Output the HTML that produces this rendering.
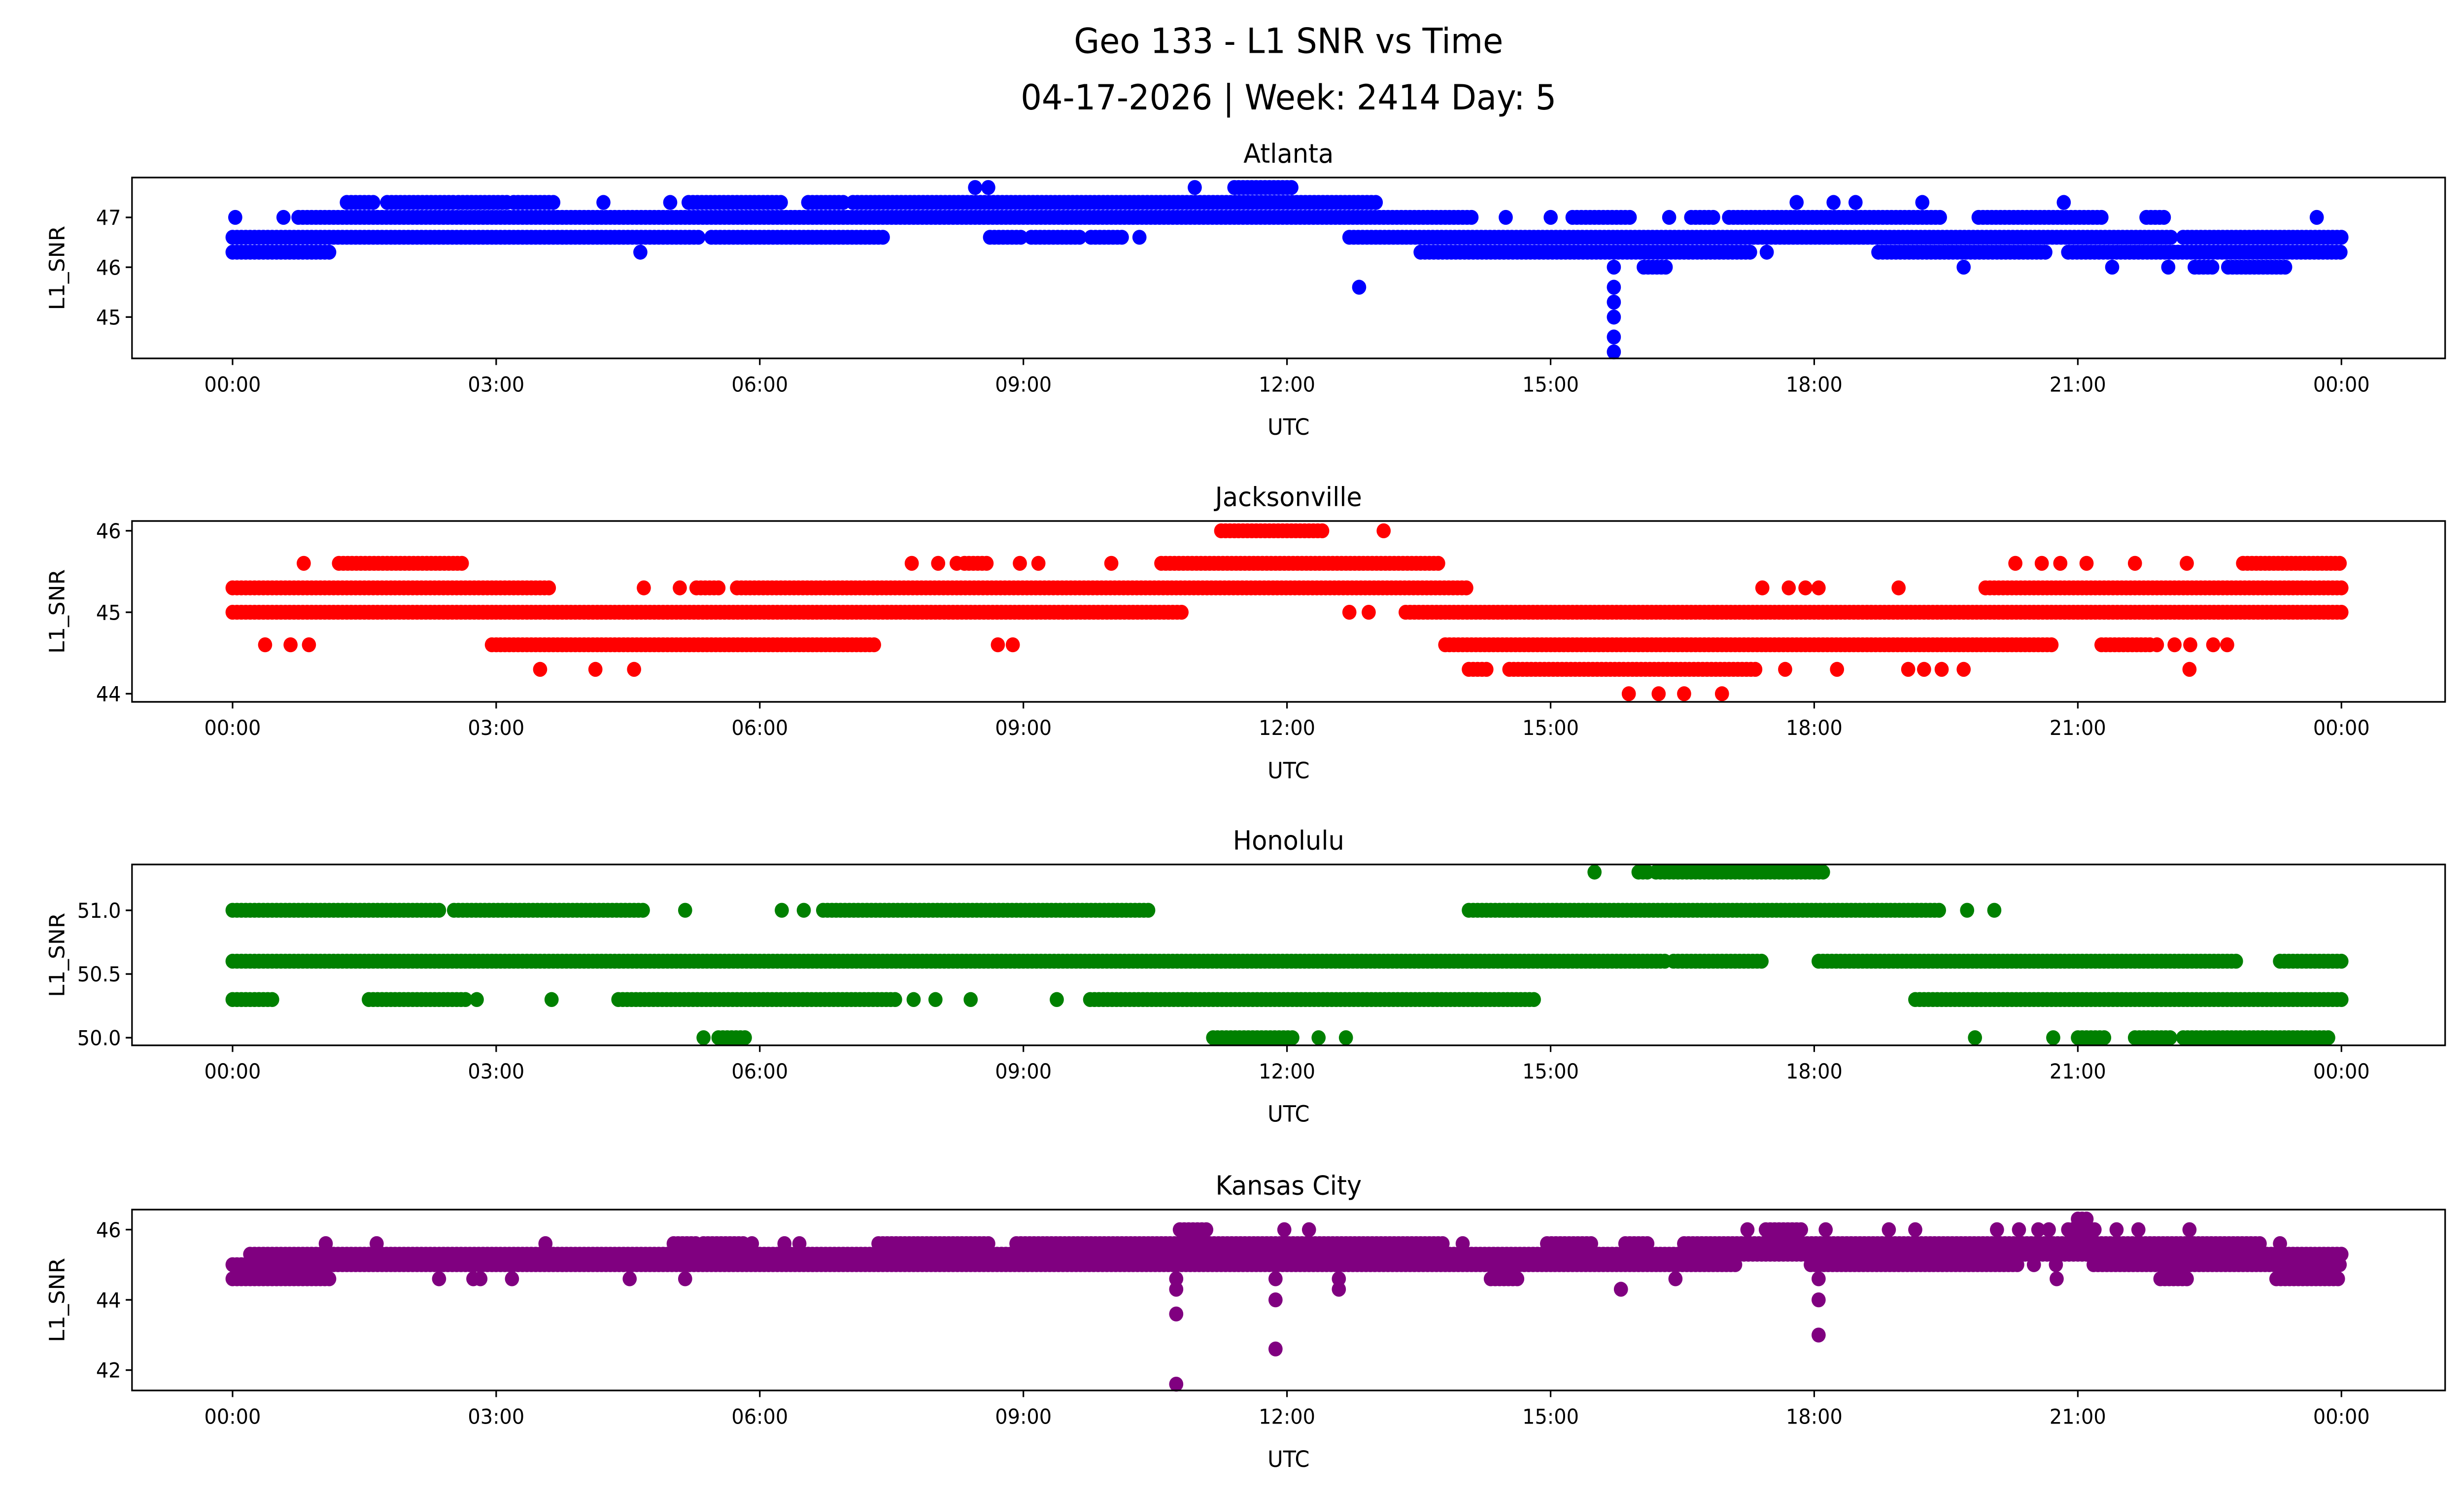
<!DOCTYPE html>
<html><head><meta charset="utf-8"><style>
html,body{margin:0;padding:0;background:#fff;overflow:hidden;width:100%;height:100%;}
svg{display:block;position:fixed;left:0;top:0;width:100vw;height:100vh;}
text{font-family:"DejaVu Sans","Liberation Sans",sans-serif;fill:#000;}
</style></head><body>
<svg id="chart" viewBox="0 0 1568 901" preserveAspectRatio="none" xmlns="http://www.w3.org/2000/svg">
<rect width="1568" height="901" fill="#fff"/>
<text x="820" y="32" font-size="21" text-anchor="middle">Geo 133 - L1 SNR vs Time</text>
<text x="820" y="66" font-size="21" text-anchor="middle">04-17-2026 | Week: 2414 Day: 5</text>
</svg>
<script>
// x-axis ticks (hours)
const xTickHours = [0,3,6,9,12,15,18,21,24];
const xTickLabels = ["00:00","03:00","06:00","09:00","12:00","15:00","18:00","21:00","00:00"];

// Atlanta runs: [value, startHour, endHour]
const atlRuns = [
 [47.6,11.4,12.08],
 [47.3,1.30,1.64],[47.3,1.76,2.52],[47.3,2.57,3.12],[47.3,3.2,3.67],[47.3,5.19,6.25],[47.3,6.55,6.97],[47.3,7.06,13.05],
 [47.0,0.75,14.11],[47.0,15.25,15.93],[47.0,16.6,16.86],[47.0,17.03,19.45],[47.0,19.87,21.31],[47.0,21.78,21.99],
 [46.6,0,5.32],[46.6,5.45,7.4],[46.6,8.62,9.0],[46.6,9.09,9.64],[46.6,9.77,10.15],[46.6,12.71,22.07],[46.6,22.2,24],
 [46.3,0,1.13],[46.3,13.52,17.29],[46.3,18.73,20.67],[46.3,20.89,24],
 [46.0,16.06,16.31],[46.0,22.33,22.54],[46.0,22.71,23.38]
];
const atlPts = [[47.6,8.45],[47.6,8.6],[47.6,10.95],[47.3,4.22],[47.3,4.98],[47.3,17.8],[47.3,18.22],[47.3,18.47],[47.3,19.23],[47.3,20.84],
 [47.0,0.03],[47.0,0.58],[47.0,14.49],[47.0,15.0],[47.0,16.35],[47.0,23.72],[46.6,10.32],[46.3,4.64],[46.3,17.46],
 [46.0,15.72],[46.0,19.7],[46.0,21.39],[46.0,22.03],[45.6,12.82],[45.6,15.72],[45.3,15.72],[45.0,15.72],[44.6,15.72],[44.3,15.72]];
const atlTicks = [45,46,47];

// Jacksonville
const jaxRuns = [
 [46.0,11.25,12.4],
 [45.6,1.21,2.61],[45.6,8.33,8.62],[45.6,10.57,13.73],[45.6,22.88,24],
 [45.3,0,3.63],[45.3,5.28,5.57],[45.3,5.74,14.07],[45.3,19.95,24],
 [45.0,0,10.82],[45.0,13.35,24],
 [44.6,2.95,7.31],[44.6,13.8,20.72],[44.6,21.27,21.86],
 [44.3,14.07,14.28],[44.3,14.53,17.33]
];
const jaxPts = [[46.0,13.1],[45.6,0.81],[45.6,7.73],[45.6,8.03],[45.6,8.24],[45.6,8.96],[45.6,9.17],[45.6,10.0],[45.6,20.29],[45.6,20.59],[45.6,20.8],[45.6,21.1],[45.6,21.65],[45.6,22.24],
 [45.3,4.68],[45.3,5.09],[45.3,17.41],[45.3,17.71],[45.3,17.9],[45.3,18.05],[45.3,18.96],[45.0,12.71],[45.0,12.93],
 [44.6,0.37],[44.6,0.66],[44.6,0.87],[44.6,8.71],[44.6,8.88],[44.6,21.9],[44.6,22.1],[44.6,22.28],[44.6,22.54],[44.6,22.7],
 [44.3,3.5],[44.3,4.13],[44.3,4.57],[44.3,17.67],[44.3,18.26],[44.3,19.07],[44.3,19.25],[44.3,19.45],[44.3,19.7],[44.3,22.27],
 [44.0,15.89],[44.0,16.23],[44.0,16.52],[44.0,16.95]];
const jaxTicks = [44,45,46];

// Honolulu
const honRuns = [
 [51.3,16.0,16.1],[51.3,16.2,18.1],
 [51.0,0,2.36],[51.0,2.52,4.68],[51.0,6.72,10.44],[51.0,14.07,19.42],
 [50.6,0,16.3],[50.6,16.4,17.4],[50.6,18.05,22.8],[50.6,23.3,24],
 [50.3,0,0.49],[50.3,1.55,2.65],[50.3,4.39,7.56],[50.3,9.76,14.83],[50.3,19.15,24],
 [50.0,5.53,5.87],[50.0,11.16,12.1],[50.0,21.0,21.3],[50.0,21.65,22.07],[50.0,22.2,23.85]
];
const honPts = [[51.3,15.5],[51.0,5.15],[51.0,6.25],[51.0,6.5],[51.0,19.74],[51.0,20.05],
 [50.3,2.78],[50.3,3.63],[50.3,7.75],[50.3,8.0],[50.3,8.4],[50.3,9.38],
 [50.0,5.36],[50.0,12.36],[50.0,12.67],[50.0,19.83],[50.0,20.72]];
const honTicks = [50.0,50.5,51.0];

// Kansas City
const kcRuns = [
 [46.3,21.0,21.14],
 [46.0,10.78,11.12],[46.0,17.45,17.88],[46.0,20.89,21.22],
 [45.6,5.02,5.28],[45.6,5.36,5.83],[45.6,7.35,8.62],[45.6,8.92,13.77],[45.6,14.96,15.5],[45.6,15.85,16.14],[45.6,16.52,23.1],
 [45.3,0.2,24],
 [45.0,0,17.1],[45.0,17.96,20.35],[45.0,21.18,24],
 [44.6,0,1.13],[44.6,14.32,14.66],[44.6,21.94,22.24],[44.6,23.26,24]
];
const kcPts = [[46.0,11.97],[46.0,12.25],[46.0,17.24],[46.0,18.13],[46.0,18.85],[46.0,19.15],[46.0,20.08],[46.0,20.33],[46.0,20.55],[46.0,20.67],[46.0,21.44],[46.0,21.69],[46.0,22.27],
 [45.6,1.06],[45.6,1.64],[45.6,3.56],[45.6,5.91],[45.6,6.28],[45.6,6.45],[45.6,14.0],[45.6,23.3],
 [45.0,20.5],[45.0,20.75],
 [44.6,2.35],[44.6,2.74],[44.6,2.82],[44.6,3.18],[44.6,4.52],[44.6,5.15],[44.6,10.74],[44.6,11.87],[44.6,12.59],[44.6,16.42],[44.6,18.05],[44.6,20.76],
 [44.3,10.74],[44.3,12.59],[44.3,15.8],[44.0,11.87],[44.0,18.05],[43.6,10.74],[43.0,18.05],[42.6,11.87],[41.6,10.74]];
const kcTicks = [42,44,46];

const panels = [
 {name:"atlanta",title:"Atlanta",color:"#0000ff",runs:atlRuns,pts:atlPts,ticks:atlTicks,dec:0,top:107,ymin:44.17,ymax:47.8},
 {name:"jacksonville",title:"Jacksonville",color:"#ff0000",runs:jaxRuns,pts:jaxPts,ticks:jaxTicks,dec:0,top:314,ymin:43.9,ymax:46.12},
 {name:"honolulu",title:"Honolulu",color:"#008000",runs:honRuns,pts:honPts,ticks:honTicks,dec:1,top:521,ymin:49.94,ymax:51.36},
 {name:"kansas-city",title:"Kansas City",color:"#800080",runs:kcRuns,pts:kcPts,ticks:kcTicks,dec:0,top:729,ymin:41.42,ymax:46.57}
];
const NS="http://www.w3.org/2000/svg";
const svg=document.getElementById('chart');
const L=84,R=1556,H=109,X0=148,X1=1490,RAD=4.5;
function xs(h){return X0+(X1-X0)*h/24;}
function mk(tag,attrs,parent){const e=document.createElementNS(NS,tag);for(const k in attrs)e.setAttribute(k,attrs[k]);(parent||svg).appendChild(e);return e;}
panels.forEach(p=>{
 const g=mk('g',{});
 
 
 const ys=v=>p.top+H-(v-p.ymin)/(p.ymax-p.ymin)*H;
 const t=mk('text',{x:(L+R)/2,y:p.top-9,'font-size':16,'text-anchor':'middle'},g);t.textContent=p.title;
 
 
 const dots=mk('g',{fill:p.color},g);
 
 
 p.runs.forEach(r=>{for(let h=r[1];h<=r[2]+1e-9;h+=0.05){mk('circle',{cx:xs(h).toFixed(1),cy:ys(r[0]).toFixed(1),r:RAD},dots);}});
 p.pts.forEach(q=>{const c=mk('circle',{cx:xs(q[1]).toFixed(1),cy:ys(q[0]).toFixed(1),r:RAD},dots);
  
  });
 const fr=mk('rect',{x:L,y:p.top,width:R-L,height:H,fill:'none',stroke:'#000','stroke-width':1},g);
 
 
 xTickHours.forEach((h,i)=>{const x=xs(h);mk('line',{x1:x,x2:x,y1:p.top+H,y2:p.top+H+4,stroke:'#000'},g);
  const tl=mk('text',{x:x,y:p.top+H+20,'font-size':12.5,'text-anchor':'middle'},g);tl.textContent=xTickLabels[i];
  
  });
 p.ticks.forEach(v=>{const y=ys(v);mk('line',{x1:L-4,x2:L,y1:y,y2:y,stroke:'#000'},g);
  const tl=mk('text',{x:L-7,y:y+4.5,'font-size':12.5,'text-anchor':'end'},g);tl.textContent=v.toFixed(p.dec);
  
  });
 const xl=mk('text',{x:(L+R)/2,y:p.top+H+46,'font-size':13.5,'text-anchor':'middle'},g);xl.textContent='UTC';
 
 
 const yl=mk('text',{x:0,y:0,'font-size':13.5,'text-anchor':'middle',transform:`translate(41,${p.top+H/2}) rotate(-90)`},g);yl.textContent='L1_SNR';
 
 
});
</script>
</body></html>
